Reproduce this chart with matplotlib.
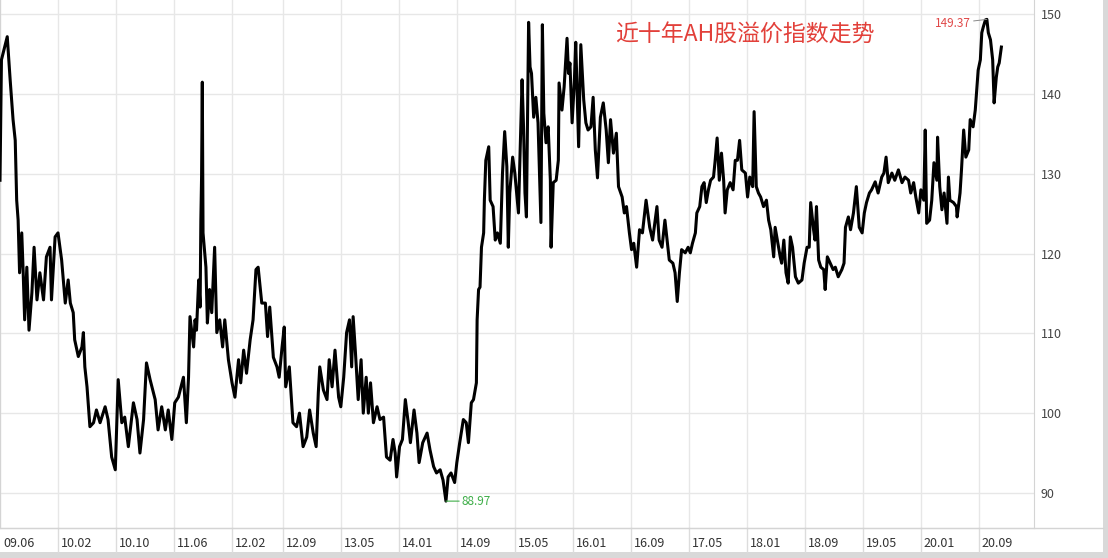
import matplotlib
matplotlib.use("Agg")
import matplotlib.pyplot as plt
import matplotlib.transforms as mtransforms
from matplotlib.lines import Line2D
from matplotlib.patches import Rectangle

plt.rcParams['font.family'] = ['Noto Sans CJK SC', 'DejaVu Sans']

# 自2009年6月起的月数
months = [
    0.0, 0.2, 1.0, 1.4, 1.8, 2.1, 2.3, 2.5, 2.7, 3.0, 3.2, 3.4, 3.7, 4.0, 4.4, 4.7,
    5.1, 5.5, 6.0, 6.4, 6.9, 7.1, 7.6, 8.0, 8.5, 9.0, 9.4, 9.7, 10.1, 10.3, 10.8,
    11.3, 11.5, 11.7, 12.0, 12.4, 12.9, 13.3, 13.8, 14.5, 14.9, 15.4, 15.9, 16.3,
    16.8, 17.2, 17.7, 18.4, 18.9, 19.3, 19.8, 20.2, 20.7, 21.4, 21.8, 22.3, 22.8,
    23.2, 23.7, 24.1, 24.6,
    25.3, 25.7, 26.0, 26.2, 26.7, 26.9, 27.1, 27.4, 27.6, 27.7, 27.8, 27.9, 28.0,
    28.4, 28.6, 28.9, 29.2, 29.6, 29.9, 30.3, 30.7, 31.0, 31.5, 32.0, 32.4, 32.9,
    33.2, 33.6, 34.0, 34.5, 34.9, 35.3, 35.6, 36.1, 36.6, 36.9, 37.2, 37.7, 38.2,
    38.5, 38.9, 39.2, 39.4, 39.9, 40.4, 40.9, 41.3, 41.8, 42.3, 42.7, 43.2, 43.6,
    43.9, 44.1, 44.6, 45.1, 45.4, 45.8, 46.2, 46.7, 47.0,
    47.4, 47.8, 48.2, 48.5, 48.7, 49.0, 49.4, 49.8, 50.1, 50.5, 50.8, 51.1, 51.5,
    52.0, 52.4, 52.9, 53.3, 53.8, 54.2, 54.5, 54.7, 55.1, 55.5, 55.9, 56.3, 56.6,
    57.1, 57.5, 57.8, 58.3, 58.9, 59.3, 59.8, 60.2, 60.7, 61.1, 61.5, 61.8, 62.2,
    62.7, 63.0, 63.4, 63.9, 64.3, 64.6, 65.0, 65.3, 65.7, 65.8, 66.0, 66.2, 66.4,
    66.7, 66.8, 67.0, 67.4, 67.6, 68.0, 68.3, 68.6, 69.0, 69.3, 69.6, 69.9, 70.1,
    70.3, 70.7, 71.0, 71.5,
    72.0, 72.2, 72.4, 72.6, 72.9, 73.1, 73.3, 73.6, 73.9, 74.2, 74.6, 74.8, 75.0,
    75.3, 75.6, 75.9, 76.0, 76.3, 76.7, 77.0, 77.1, 77.5, 77.8, 78.2, 78.4, 78.6,
    78.9, 79.2, 79.4, 79.8, 80.1, 80.5, 80.8, 81.1, 81.5, 81.8, 82.1, 82.4, 82.8,
    83.2, 83.6, 83.9, 84.2, 84.6, 85.0, 85.3, 85.8, 86.1, 86.4, 86.8, 87.1, 87.4,
    87.8, 88.2, 88.6, 89.1, 89.6, 90.0, 90.6, 90.9, 91.3, 91.7, 92.0, 92.3, 92.8,
    93.1, 93.4, 93.7, 94.0, 94.5, 94.9,
    95.2, 95.5, 95.9, 96.1, 96.5, 96.8, 97.1, 97.4, 97.7, 98.0, 98.4, 98.6, 98.9,
    99.2, 99.5, 99.8, 100.0, 100.3, 100.7, 101.1, 101.4, 101.7, 102.0, 102.3,
    102.8, 103.1, 103.4, 103.8, 104.0, 104.3, 104.6, 104.9, 105.3, 105.7, 106.0,
    106.3, 106.7, 106.9, 107.2, 107.6, 107.8, 108.1, 108.4, 108.7, 109.0, 109.3,
    109.7, 110.1, 110.6, 110.9, 111.3, 111.6, 111.8, 112.2, 112.4, 112.6, 112.9,
    113.2, 113.6, 113.8, 114.1, 114.5, 114.9, 115.2, 115.6, 116.1, 116.4, 116.6,
    117.0, 117.3, 117.7, 118.1,
    118.5, 118.9, 119.2, 119.5, 119.9, 120.2, 120.7, 121.1, 121.6, 121.9, 122.2,
    122.5, 123.0, 123.4, 123.9, 124.4, 124.8, 125.3, 125.6, 126.0, 126.3, 126.7,
    127.0, 127.4, 127.6, 127.8, 128.2, 128.5, 128.8, 129.2, 129.3, 129.6, 129.9,
    130.2, 130.6, 130.8, 131.0, 131.5, 131.9, 132.0, 132.4, 132.6, 132.9, 133.2,
    133.6, 133.8, 134.2, 134.5, 134.7, 134.9, 135.2, 135.4, 135.6, 135.9, 136.1,
    136.3, 136.6, 136.9, 137.1, 137.4, 137.6, 137.8, 138.1,
]

# AH股溢价指数
premium = [
    129.2, 144.3, 147.2, 141.8, 136.8, 134.2, 126.7, 124.2, 117.6, 122.6, 117.6,
    111.7, 118.3, 110.4, 115.1, 120.8, 114.2, 117.6, 114.2, 119.6, 120.8, 114.2,
    122.1, 122.6, 119.2, 113.8, 116.7, 113.8, 112.6, 109.2, 107.1, 108.3, 110.1,
    105.8, 103.3, 98.3, 98.8, 100.4, 98.8, 100.8, 99.2, 94.5, 92.9, 104.2, 98.8,
    99.5, 95.8, 101.3, 99.2, 95.0, 99.2, 106.3, 104.2, 101.7, 97.9, 100.8, 97.9,
    100.4, 96.7, 101.3, 102.0,
    104.5, 98.8, 104.5, 112.1, 108.3, 111.7, 110.4, 116.7, 113.3, 124.2, 129.6,
    141.5, 122.6, 118.3, 111.3, 115.5, 112.6, 120.8, 110.1, 111.7, 108.3, 111.7,
    106.7, 103.8, 102.0, 106.7, 103.8, 107.9, 105.0, 109.2, 111.7, 118.0, 118.3,
    113.8, 113.8, 109.6, 113.3, 107.0, 105.8, 104.5, 108.3, 110.8, 103.3, 105.8,
    98.8, 98.3, 100.0, 95.8, 97.0, 100.4, 97.5, 95.8, 102.6, 105.8, 102.9, 101.7,
    106.7, 103.3, 107.9, 102.0, 100.8,
    104.5, 110.1, 111.7, 105.8, 112.1, 107.9, 101.7, 106.7, 100.0, 104.5, 100.0,
    103.8, 98.8, 100.8, 99.2, 99.5, 94.5, 94.1, 96.7, 95.0, 92.0, 95.8, 96.7,
    101.7, 98.8, 96.3, 100.4, 97.5, 93.8, 96.3, 97.5, 95.4, 93.3, 92.5, 92.9,
    91.6, 88.97, 92.0, 92.5, 91.3, 93.8, 96.3, 99.2, 98.8, 96.3, 101.3, 101.7,
    103.8, 111.7, 115.5, 115.8, 120.8, 122.6, 126.7, 131.7, 133.4, 126.7, 125.9,
    121.7, 122.6, 121.3, 130.1, 135.3, 130.9, 120.8, 127.6, 132.1, 130.1, 125.1,
    141.8, 135.9, 127.6, 124.6, 149.0, 143.4, 142.6, 137.1, 139.6, 136.4, 123.9,
    148.7, 137.6, 133.9, 135.9, 129.2, 120.8, 128.9, 129.2, 131.7, 141.4, 138.0,
    140.9, 147.0, 142.6, 143.9, 136.4, 141.4, 146.5, 133.4, 146.2, 139.3, 136.4,
    135.5, 135.9, 139.6, 133.0, 129.5, 137.1, 138.9, 135.5, 131.4, 136.8, 132.6,
    135.1, 128.4, 127.1, 125.1, 125.9, 122.6, 120.5, 121.3, 118.3, 123.0, 122.6,
    126.7, 123.3, 121.7, 125.9, 121.7, 120.8, 124.2, 121.7, 119.2, 118.8, 117.6,
    114.0, 117.6, 120.5, 120.1, 120.8,
    120.1, 121.3, 122.6, 125.1, 125.9, 128.4, 128.9, 126.4, 128.0, 129.2, 129.6,
    131.4, 134.5, 129.2, 132.6, 129.2, 125.1, 128.0, 128.9, 128.0, 131.7, 131.7,
    134.2, 130.5, 130.1, 127.1, 129.6, 128.4, 137.8, 128.4, 127.6, 127.1, 125.9,
    126.7, 124.2, 123.0, 119.6, 123.3, 121.7, 119.6, 118.8, 121.7, 117.6, 116.3,
    122.1, 120.8, 117.1, 116.3, 116.7, 118.8, 120.8, 120.8, 126.4, 123.0, 121.7,
    125.9, 119.2, 118.3, 118.0, 115.5, 119.6, 118.8, 118.0, 118.3, 117.1, 118.0,
    118.8, 123.3, 124.6, 123.0, 125.1, 128.4,
    123.3, 122.6, 125.1, 126.4, 127.6, 128.0, 129.0, 127.6, 129.6, 130.1, 132.1,
    128.9, 130.1, 129.2, 130.5, 128.9, 129.6, 129.2, 127.6, 128.9, 127.1, 125.1,
    128.0, 126.7, 135.5, 123.8, 124.2, 126.7, 131.4, 129.2, 134.6, 128.4, 125.5,
    127.6, 123.8, 129.6, 126.7, 126.4, 125.9, 124.6, 127.6, 130.5, 135.5, 132.1,
    133.0, 136.8, 135.9, 138.0, 140.5, 143.0, 144.3, 147.7, 148.4, 149.3, 149.37,
    147.7, 146.8, 144.3, 138.9, 142.1, 143.4, 143.9, 145.9,
]

tick_months = [0, 8, 16, 24, 32, 39, 47, 55, 63, 71, 79, 87, 95, 103, 111, 119, 127, 135]
tick_labels = ["09.06", "10.02", "10.10", "11.06", "12.02", "12.09", "13.05", "14.01",
               "14.09", "15.05", "16.01", "16.09", "17.05", "18.01", "18.09", "19.05",
               "20.01", "20.09"]
y_ticks = [90, 100, 110, 120, 130, 140, 150]

title = "近十年AH股溢价指数走势"
peak_month, peak_value = 136.1, 149.37
low_month, low_value = 61.5, 88.97

W, H = 1108, 558
fig = plt.figure(figsize=(W / 100, H / 100), dpi=100, facecolor="#d9d9d9")
fig.patches.append(Rectangle((0, 6 / H), 1103 / W, 552 / H, transform=fig.transFigure,
                             facecolor="white", edgecolor="none", zorder=-1))

ax = fig.add_axes([0, 30 / H, 1034 / W, 528 / H])
ax.set_facecolor("white")
ax.plot(months, premium, color="black", lw=2.2, zorder=3)
ax.set_xlim(0, 142.6)
ax.set_ylim(85.6, 151.8)

ax.set_yticks(y_ticks)
ax.yaxis.tick_right()
ax.tick_params(axis="y", length=0, pad=5, labelsize=9, labelcolor="#444444")
ax.set_xticks(tick_months, tick_labels)
ax.tick_params(axis="x", length=0, pad=6.5, labelsize=9, labelcolor="#333333")
shift = mtransforms.ScaledTranslation(3 / 100, 0, fig.dpi_scale_trans)
for lbl in ax.get_xticklabels():
    lbl.set_ha("left")
    lbl.set_transform(lbl.get_transform() + shift)

ax.grid(color="#e7e7e7", lw=1)
ax.spines["top"].set_visible(False)
for side in ["left", "right", "bottom"]:
    ax.spines[side].set_color("#d4d4d4")

# 底部日期栏的分隔线
for m in tick_months[1:]:
    ax.plot([m, m], [0, -24 / 528], transform=ax.get_xaxis_transform(),
            color="#dcdcdc", lw=1, clip_on=False)
fig.add_artist(Line2D([0, 1103 / W], [30 / H, 30 / H], color="#d4d4d4", lw=1))

ax.annotate(f"{peak_value:.2f}", xy=(peak_month, peak_value), xytext=(-16, -4),
            textcoords="offset pixels", ha="right", va="center", fontsize=8.5,
            color="#e04848", arrowprops=dict(arrowstyle="-", color="#888888", lw=0.7,
                                             shrinkA=0, shrinkB=0))
ax.annotate(f"{low_value:.2f}", xy=(low_month, low_value), xytext=(16, 0),
            textcoords="offset pixels", ha="left", va="center", fontsize=8.5,
            color="#3fae49", arrowprops=dict(arrowstyle="-", color="#3fae49", lw=0.8,
                                             shrinkA=0, shrinkB=0))

fig.text(615 / W, 1 - 35 / H, title, color="#e2403a", fontsize=16.5,
         ha="left", va="center")

fig.savefig("out.png", dpi=100, facecolor=fig.get_facecolor())
